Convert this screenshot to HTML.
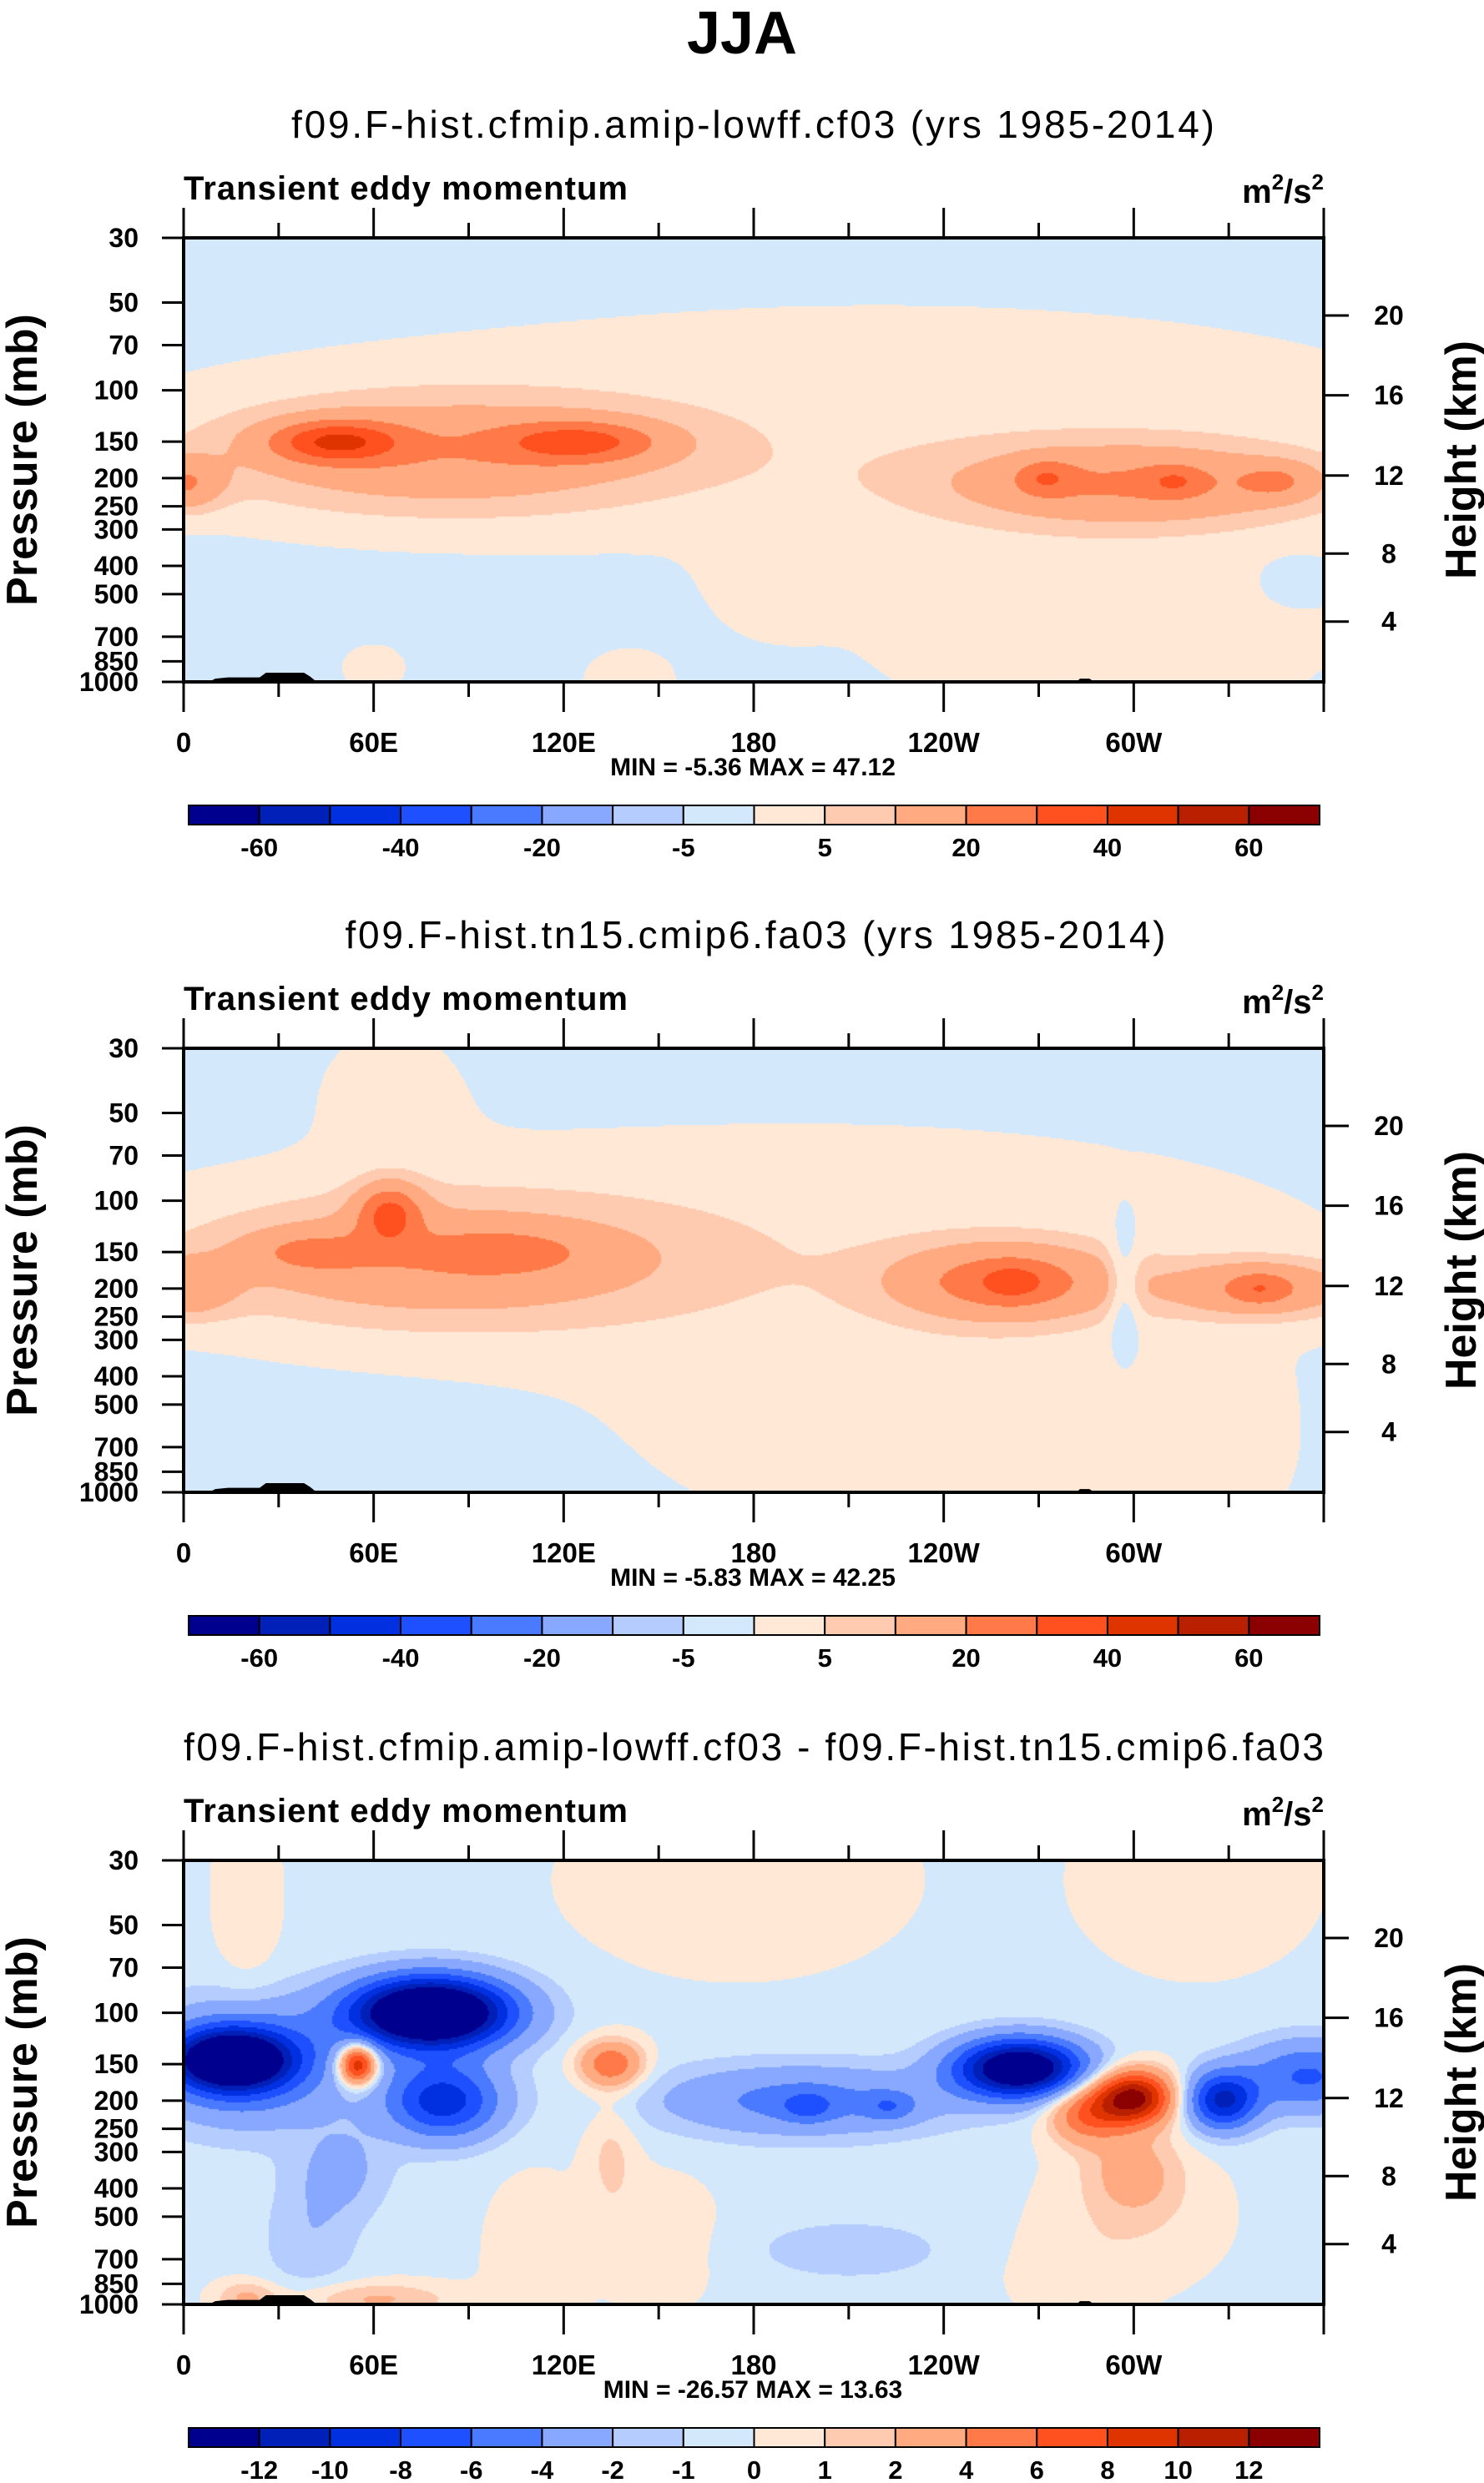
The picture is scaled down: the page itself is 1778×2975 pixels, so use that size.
<!DOCTYPE html>
<html><head><meta charset="utf-8">
<style>
html,body{margin:0;padding:0;background:#fff;}
body{width:1778px;height:2975px;position:relative;overflow:hidden;font-family:"Liberation Sans",sans-serif;}
canvas{position:absolute;}
#ov{position:absolute;left:0;top:0;}
</style></head>
<body>
<canvas id="c0" width="1366" height="532" style="left:220px;top:285px"></canvas>
<canvas id="c1" width="1366" height="532" style="left:220px;top:1256px"></canvas>
<canvas id="c2" width="1366" height="532" style="left:220px;top:2229px"></canvas>
<svg id="ov" width="1778" height="2975" xmlns="http://www.w3.org/2000/svg">
<text x="889" y="64" text-anchor="middle" font-family="Liberation Sans" font-weight="bold" font-size="72">JJA</text>
</svg>
<script>
// ---- data ----
const pTicks=[30,50,70,100,150,200,250,300,400,500,700,850,1000];
const lonTicks=[0,30,60,90,120,150,180,210,240,270,300,330,360];
const lonLabels=["0","","60E","","120E","","180","","120W","","60W","",""];
const hTicks=[20,16,12,8,4];
const hTickP=[55.4,104,196,363,621];
const levelsAbs=[-60,-50,-40,-30,-20,-10,-5,0,5,10,20,30,40,50,60];
const levelsDiff=[-12,-10,-8,-6,-4,-2,-1,0,1,2,4,6,8,10,12];
const labelsAbs=["-60","","-40","","-20","","-5","","5","","20","","40","","60"];
const labelsDiff=["-12","-10","-8","-6","-4","-2","-1","0","1","2","4","6","8","10","12"];
const colors=["#00008f","#0020b8","#0030e0","#1e50ff","#4a7aff","#88a8ff","#b4ccff","#d4e8fc","#ffe8d6","#ffcbb0","#ffaa80","#ff7a48","#ff5020","#e03400","#b82000","#8b0000"];
const titles=["f09.F-hist.cfmip.amip-lowff.cf03 (yrs 1985-2014)","f09.F-hist.tn15.cmip6.fa03 (yrs 1985-2014)","f09.F-hist.cfmip.amip-lowff.cf03 - f09.F-hist.tn15.cmip6.fa03"];
const minmax=["MIN = -5.36  MAX = 47.12","MIN = -5.83  MAX = 42.25","MIN = -26.57  MAX = 13.63"];
const background=[-2,-2,-0.3];
// blobs: [lon, pressure(mb), lon width, log10-p width, amplitude]
const blobs1=[[220,130,200,0.45,4.5],[290,700,80,0.35,4.5],[140,1000,20,0.15,3],[60,900,15,0.12,3],[185,450,20,0.2,3],
 [80,165,75,0.2,18],[48,150,20,0.07,30],[125,150,25,0.07,24],[0,210,12,0.09,18],
 [300,210,60,0.14,20],[272,200,9,0.06,14],[313,205,9,0.05,12],[345,205,12,0.06,12],[350,450,10,0.08,-3]];
const blobs2=[[200,150,190,0.5,4.3],[65,40,25,0.25,3],[240,700,90,0.35,4.5],[330,800,20,0.3,2.5],
 [80,160,80,0.22,17],[65,110,10,0.1,25],[40,150,20,0.07,12],[100,150,25,0.07,12],[0,200,15,0.1,15],
 [260,190,35,0.13,25],[262,190,10,0.06,10],[340,200,30,0.1,20],[340,200,8,0.05,10],[297,200,5,0.2,-10],[60,880,35,0.1,-3]];
const blobs3=[[175,35,50,0.3,1.2],[320,35,35,0.3,1.2],[20,40,10,0.35,1.2],[110,700,15,0.3,1],[150,600,20,0.25,0.9],
 [60,960,25,0.06,2.5],[20,950,10,0.06,2.5],[300,500,30,0.25,1],[280,800,20,0.15,0.8],
 [15,145,18,0.1,-15],[20,150,30,0.2,-6],[55,150,6,0.07,12],[78,100,25,0.12,-20],[82,200,18,0.13,-9],
 [135,150,10,0.08,6],[135,300,8,0.2,1.5],[195,200,45,0.12,-4.5],[197,210,8,0.05,-3],[223,210,8,0.05,-3],
 [264,155,20,0.1,-16],[300,195,12,0.09,13],[285,220,12,0.1,6],[300,350,15,0.15,2.5],
 [328,200,11,0.1,-10],[355,165,20,0.12,-6],[210,650,30,0.1,-1.5],[40,600,15,0.2,-1.5],[50,350,15,0.15,-2]];
const topoLon=[8,10,14,24,26,38,40,42];
const topoP=[1000,975,965,965,930,930,960,1000];
const topo2Lon=[282,283,286,287,310,311];
const topo2P=[1000,975,975,990,990,1000];

// ---- layout ----
const X0=220,W=1366,H=532,tops=[285,1256,2229];
const xs=lon=>X0+lon/360*W;
const ys=(p,top)=>top+Math.log10(p/30)/Math.log10(1000/30)*H;
const NS="http://www.w3.org/2000/svg";
const svg=document.getElementById('ov');
function mk(tag,attrs,parent,text){const e=document.createElementNS(NS,tag);for(const k in attrs)e.setAttribute(k,attrs[k]);if(text!==undefined)e.textContent=text;(parent||svg).appendChild(e);return e;}

function field(blobs,bg,lon,lp){let v=bg;for(const b of blobs){const dl=(lon-b[0])/b[2],dp=(lp-Math.log10(b[1]))/b[3];v+=b[4]*Math.exp(-(dl*dl+dp*dp));}return v;}
function colorIdx(v,lev){let i=0;while(i<lev.length&&v>=lev[i])i++;return i;}
function hex(c){return [parseInt(c.slice(1,3),16),parseInt(c.slice(3,5),16),parseInt(c.slice(5,7),16)];}
const rgb=colors.map(hex);

const allBlobs=[blobs1,blobs2,blobs3];
for(let k=0;k<3;k++){
  const cv=document.getElementById('c'+k),ctx=cv.getContext('2d');
  const img=ctx.createImageData(W,H),d=img.data;
  const lev=k==2?levelsDiff:levelsAbs;
  for(let py=0;py<H;py+=2){
    const lp=Math.log10(30)+(py+1)/H*Math.log10(1000/30);
    for(let px=0;px<W;px+=2){
      const lon=(px+1)/W*360;
      const c=rgb[colorIdx(field(allBlobs[k],background[k],lon,lp),lev)];
      for(let dy=0;dy<2&&py+dy<H;dy++)for(let dx=0;dx<2&&px+dx<W;dx++){const o=((py+dy)*W+px+dx)*4;d[o]=c[0];d[o+1]=c[1];d[o+2]=c[2];d[o+3]=255;}
    }
  }
  ctx.putImageData(img,0,0);
}

for(let k=0;k<3;k++){
  const top=tops[k],bot=top+H;
  const g=mk('g',{});
  
  
  const pts=topoLon.map((l,i)=>xs(l)+','+ys(topoP[i],top)).join(' ');
  const tp=mk('polygon',{points:pts,fill:'#000'},g);
  
  
  const pts2=topo2Lon.map((l,i)=>xs(l)+','+ys(topo2P[i],top)).join(' ');
  const tp2=mk('polygon',{points:pts2,fill:'#000'},g);
  
  
  const fr=mk('rect',{x:X0,y:top,width:W,height:H,fill:'none',stroke:'#000','stroke-width':4},g);
  
  
  const t=mk('text',{x:k==0?902:(k==1?905:903),y:top-120,'text-anchor':'middle','font-size':46,'font-family':'Liberation Sans',textLength:k==0?1106:(k==1?983:1366)},g,titles[k]);
  
  
  const st=mk('text',{x:220,y:top-46,'font-size':40,'font-weight':'bold','font-family':'Liberation Sans',textLength:532},g,'Transient eddy momentum');
  
  
  const un=mk('text',{x:1586,y:top-42,'text-anchor':'end','font-size':40,'font-weight':'bold','font-family':'Liberation Sans'},g);
  
  
  un.innerHTML='m<tspan dy="-16" font-size="26">2</tspan><tspan dy="16">/s</tspan><tspan dy="-16" font-size="26">2</tspan>';
  lonTicks.forEach((l,i)=>{
    const major=l%60==0,len=major?36:18,x=xs(l);
    const a=mk('line',{x1:x,y1:top,x2:x,y2:top-len,stroke:'#000','stroke-width':3},g);
    
    
    const b=mk('line',{x1:x,y1:bot,x2:x,y2:bot+len,stroke:'#000','stroke-width':3},g);
    
    
    if(lonLabels[i]){const tl=mk('text',{x:x,y:bot+84,'text-anchor':'middle','font-size':33,'font-weight':'bold','font-family':'Liberation Sans'},g,lonLabels[i]);
      
      }
  });
  const mm=mk('text',{x:902,y:bot+112,'text-anchor':'middle','font-size':30,'font-weight':'bold','font-family':'Liberation Sans'},g,minmax[k]);
  
  
  pTicks.forEach(p=>{
    const y=ys(p,top);
    const a=mk('line',{x1:X0,y1:y,x2:X0-26,y2:y,stroke:'#000','stroke-width':3},g);
    
    
    const tl=mk('text',{x:166,y:y+11,'text-anchor':'end','font-size':32,'font-weight':'bold','font-family':'Liberation Sans'},g,String(p));
    
    
  });
  hTicks.forEach((h,i)=>{
    const y=ys(hTickP[i],top);
    const a=mk('line',{x1:X0+W,y1:y,x2:X0+W+30,y2:y,stroke:'#000','stroke-width':3},g);
    
    
    const tl=mk('text',{x:1664,y:y+11,'text-anchor':'middle','font-size':32,'font-weight':'bold','font-family':'Liberation Sans'},g,String(h));
    
    
  });
  const yl=mk('text',{x:0,y:0,transform:'translate(44,'+(top+266)+') rotate(-90)','text-anchor':'middle','font-size':52,'font-weight':'bold','font-family':'Liberation Sans'},g,'Pressure (mb)');
  
  
  const hl=mk('text',{x:0,y:0,transform:'translate(1768,'+(top+266)+') rotate(-90)','text-anchor':'middle','font-size':52,'font-weight':'bold','font-family':'Liberation Sans'},g,'Height (km)');
  
  
  const cbTop=bot+148,cbL=226,cbW=1355,cbH=23,bw=cbW/16;
  const cb=mk('g',{},g);
  
  
  colors.forEach((c,i)=>{
    const r=mk('rect',{x:cbL+i*bw,y:cbTop,width:bw,height:cbH,fill:c,stroke:'#000','stroke-width':2},cb);
    
    
  });
  const labs=k==2?labelsDiff:labelsAbs;
  labs.forEach((s,i)=>{if(!s)return;
    const tl=mk('text',{x:cbL+(i+1)*bw,y:cbTop+61,'text-anchor':'middle','font-size':31,'font-weight':'bold','font-family':'Liberation Sans'},cb,s);
    
    
  });
}
</script>
</body></html>
